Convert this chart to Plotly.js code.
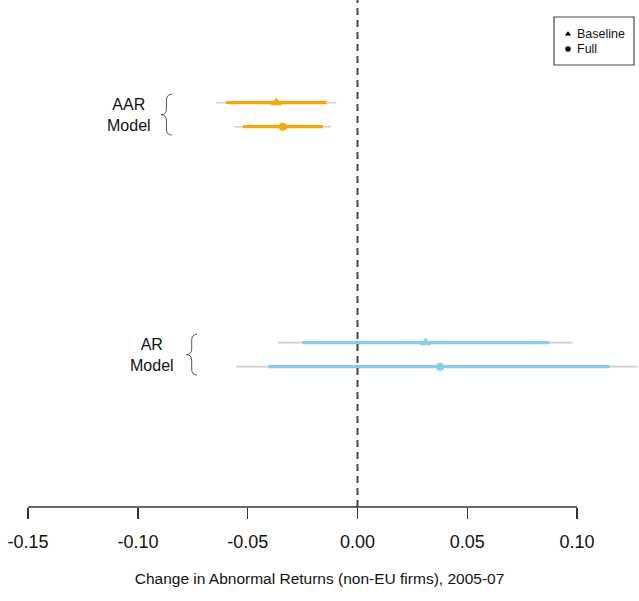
<!DOCTYPE html>
<html>
<head>
<meta charset="utf-8">
<script src="https://cdn.plot.ly/plotly-3.0.1.min.js"></script>
<style>html,body{margin:0;padding:0;background:#fff;overflow:hidden;}#chart{width:639px;height:601px;}</style>
</head>
<body>
<div id="chart"></div>
<script>
// ---- data ----
var groups = ["AAR", "AR"];
var models = ["Baseline", "Full"];
var estimate = [[-0.0370, -0.0340], [0.0310, 0.0376]];
var innerLo = [[-0.0598, -0.0522], [-0.0252, -0.0405]];
var innerHi = [[-0.0141, -0.0158], [0.0874, 0.1150]];
var outerLo = [[-0.0643, -0.0560], [-0.0363, -0.0552]];
var outerHi = [[-0.0097, -0.0120], [0.0980, 0.1273]];
var tickVals = [-0.15, -0.10, -0.05, 0.00, 0.05, 0.10];
var tickText = ["-0.15", "-0.10", "-0.05", "0.00", "0.05", "0.10"];
var xTitle = "Change in Abnormal Returns (non-EU firms), 2005-07";

// ---- styling ----
var FONT = 'Liberation Sans, Arial, sans-serif';
var groupColors = ["#FFA500", "#87CEEB"];
var symbols = ["triangle-up", "circle"];
var symSizes = [10, 8];
var groupBase = [1, 11];          // row position of first model in each group
var labelX = [-0.1040, -0.0935];  // label centre (data units)
var braceX = [-0.0870, -0.0755];

function rowY(g, m) { return groupBase[g] + m; }

var traces = [];
for (var g = 0; g < groups.length; g++) {
  for (var m = 0; m < models.length; m++) {
    var y = rowY(g, m);
    traces.push({x: [outerLo[g][m], outerHi[g][m]], y: [y, y], mode: 'lines',
      line: {color: '#d0d0d0', width: 1.6}, showlegend: false, hoverinfo: 'skip'});
    traces.push({x: [innerLo[g][m], innerHi[g][m]], y: [y, y], mode: 'lines',
      line: {color: groupColors[g], width: 3.2}, showlegend: false, hoverinfo: 'skip'});
    traces.push({x: [estimate[g][m]], y: [y], mode: 'markers',
      marker: {color: groupColors[g], symbol: symbols[m], size: symSizes[m]},
      showlegend: false});
  }
}

// ---- legend key drawn on an overlay axis measured in pixels ----
var legX = 568, legY0 = 34, legDY = 15;
traces.push({x: models.map(function () { return legX; }),
  y: models.map(function (_, i) { return legY0 + i * legDY; }),
  xaxis: 'x2', yaxis: 'y2', mode: 'markers', showlegend: false, hoverinfo: 'skip',
  marker: {color: '#000', symbol: symbols, size: 5.5}});

var shapes = [];
// zero reference line
shapes.push({type: 'line', xref: 'x', yref: 'paper', x0: 0, x1: 0, y0: 0, y1: 1,
  line: {color: '#444', width: 2, dash: '7px,5px'}});
// axis line spanning the tick range
shapes.push({type: 'line', xref: 'x', yref: 'paper', x0: tickVals[0], x1: tickVals[tickVals.length - 1],
  y0: 0, y1: 0, line: {color: '#333', width: 1.3}});
// legend box
shapes.push({type: 'rect', xref: 'x2', yref: 'y2', x0: 554, x1: 634, y0: 17, y1: 65,
  line: {color: '#444', width: 1.2}, fillcolor: 'rgba(0,0,0,0)'});

function bracePath(xc, yTop, yBot) {
  var w = 0.0024, xl = xc - w, xm = xc, xr = xc + w;
  var mid = (yTop + yBot) / 2, d = 0.25;
  return 'M' + xr + ',' + yTop + ' Q' + xm + ',' + yTop + ' ' + xm + ',' + (yTop + d) +
    ' L' + xm + ',' + (mid - d) + ' Q' + xm + ',' + mid + ' ' + xl + ',' + mid +
    ' Q' + xm + ',' + mid + ' ' + xm + ',' + (mid + d) +
    ' L' + xm + ',' + (yBot - d) + ' Q' + xm + ',' + yBot + ' ' + xr + ',' + yBot;
}

var annotations = [];
for (var g = 0; g < groups.length; g++) {
  var yt = rowY(g, 0), yb = rowY(g, models.length - 1);
  shapes.push({type: 'path', xref: 'x', yref: 'y', path: bracePath(braceX[g], yt - 0.35, yb + 0.35),
    line: {color: '#555', width: 1}});
  annotations.push({x: labelX[g], y: (yt + yb) / 2, xref: 'x', yref: 'y', showarrow: false,
    text: groups[g] + '<br>Model', align: 'center',
    font: {family: FONT, size: 16, color: '#111'}});
}
for (var m = 0; m < models.length; m++) {
  annotations.push({x: legX + 7, y: legY0 + m * legDY, xref: 'x2', yref: 'y2', showarrow: false,
    xanchor: 'left', yanchor: 'middle', text: models[m],
    font: {family: FONT, size: 12.5, color: '#111'}});
}

var layout = {
  width: 639, height: 601,
  margin: {l: 0, r: 0, t: 0, b: 94, autoexpand: false},
  paper_bgcolor: '#fff', plot_bgcolor: '#fff',
  font: {family: FONT, color: '#111'},
  xaxis: {range: [-0.1628, 0.1282], showgrid: false, zeroline: false, showline: false, automargin: false,
    tickvals: tickVals, ticktext: tickText, ticks: 'outside', ticklen: 11, tickwidth: 1.3,
    tickcolor: '#333', tickfont: {size: 18, color: '#111'}, ticklabelstandoff: 7,
    title: {text: xTitle, font: {size: 15.5, color: '#111'}, standoff: 22}},
  yaxis: {range: [17.85, -3.28], showgrid: false, zeroline: false, showline: false, automargin: false,
    showticklabels: false, ticks: ''},
  xaxis2: {overlaying: 'x', range: [0, 639], visible: false, fixedrange: true},
  yaxis2: {overlaying: 'y', range: [507, 0], visible: false, fixedrange: true},
  showlegend: false,
  shapes: shapes,
  annotations: annotations
};

Plotly.newPlot('chart', traces, layout, {displayModeBar: false, staticPlot: true});
</script>
</body>
</html>
